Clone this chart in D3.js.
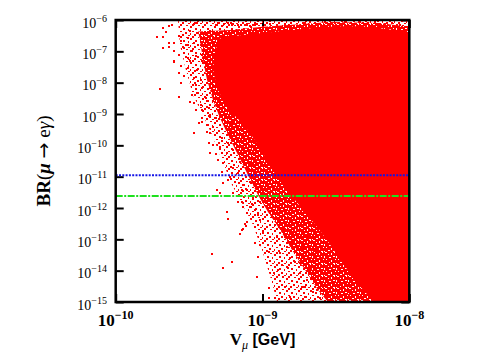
<!DOCTYPE html>
<html>
<head>
<meta charset="UTF-8">
<title>BR(mu -> e gamma) vs V_mu</title>
<script src="https://d3js.org/d3.v7.min.js"></script>
<style>
  body { margin: 0; background: #fff; }
  svg text { font-family: "Liberation Serif", "DejaVu Serif", serif; fill: #000; }
</style>
</head>
<body>
<div id="chart"></div>
<script>
// ---- data ----
const xTicks = [1e-10, 1e-9, 1e-8];
const xTickExp = ["−10", "−9", "−8"];
const yTicks = [1e-6, 1e-7, 1e-8, 1e-9, 1e-10, 1e-11, 1e-12, 1e-13, 1e-14, 1e-15];
const yTickExp = ["−6", "−7", "−8", "−9", "−10", "−11", "−12", "−13", "−14", "−15"];

const boundBlue = 1.1e-11;   // dotted line
const boundGreen = 2.4e-12;  // dash-dot line

// outline of the fully covered part of the scan [V, BR]
const coreEdge = [
  [5.3e-10, 2.87e-7], [7.0e-10, 3.09e-7], [9.6e-10, 3.58e-7], [1.32e-9, 4.15e-7],
  [1.8e-9, 4.8e-7], [2.47e-9, 5.56e-7], [3.37e-9, 5.98e-7], [4.6e-9, 5.98e-7],
  [6.3e-9, 5.16e-7], [8.0e-9, 4.47e-7], [1e-8, 3.85e-7], [1e-8, 1e-15],
  [5.84e-9, 1e-15], [4.6e-9, 3.49e-15], [3.95e-9, 9.1e-15], [3.37e-9, 2.54e-14],
  [2.88e-9, 7.6e-14], [2.47e-9, 2e-13], [2.1e-9, 5.2e-13], [1.8e-9, 1.25e-12],
  [1.54e-9, 3.0e-12], [1.32e-9, 7.8e-12], [1.125e-9, 2.36e-11], [9.9e-10, 7.1e-11],
  [8.5e-10, 2.14e-10], [7.25e-10, 5.6e-10], [6.2e-10, 1.16e-9], [5.4e-10, 2.8e-9],
  [4.9e-10, 8.4e-9], [4.67e-10, 2.5e-8], [4.75e-10, 7.6e-8], [4.97e-10, 1.6e-7]
];

// outline of the densely sampled band around it [V, BR]
const denseEdge = [
  [1e-8, 5.99e-7], [6.31e-9, 8.04e-7], [2.88e-9, 8.65e-7], [1.5e-9, 6.9e-7],
  [9.62e-10, 6.0e-7], [6.0e-10, 4.8e-7], [3.64e-10, 4.3e-7], [3.75e-10, 2.31e-7],
  [3.93e-10, 5.3e-8], [4.19e-10, 1.22e-8], [4.6e-10, 2.8e-9], [5.13e-10, 7.47e-10],
  [5.82e-10, 2.14e-10], [6.81e-10, 4.9e-11], [7.96e-10, 1.13e-11], [9.32e-10, 2.6e-12],
  [1.09e-9, 7.47e-13], [1.32e-9, 1.99e-13], [1.59e-9, 4.57e-14], [1.95e-9, 1.05e-14],
  [2.39e-9, 2.42e-15], [2.79e-9, 1e-15], [1e-8, 1e-15]
];

// outline of the thinly sampled band [V, BR]
const sparseEdge = [
  [1e-8, 9.3e-7], [2.66e-10, 9.3e-7], [2.74e-10, 1.6e-7], [3.01e-10, 2.54e-8],
  [3.36e-10, 4.05e-9], [3.93e-10, 9.31e-10], [4.53e-10, 2.14e-10], [5.3e-10, 3.41e-11],
  [6.2e-10, 5.42e-12], [7.36e-10, 1.25e-12], [8.61e-10, 2.87e-13], [9.93e-10, 4.57e-14],
  [1.12e-9, 7.3e-15], [1.26e-9, 1e-15], [1e-8, 1e-15]
];

// scattered points outside the covered part [V, BR]
const fringeUpper = [
  [1.9e-10, 2.9e-7], [2.0e-10, 6.3e-9], [2.7e-10, 3.5e-9], [2.8e-10, 9.8e-9], [2.1e-10, 2.9e-7],
  [2.3e-10, 6.5e-7], [2.5e-10, 4.6e-8], [2.3e-10, 1.9e-7], [3.4e-10, 7.5e-7], [3.6e-10, 8.0e-7],
  [4.8e-10, 6.9e-7], [5.5e-10, 7.5e-7], [6.2e-10, 6.9e-7], [6.8e-10, 6.9e-7], [7.8e-10, 7.5e-7],
  [9.2e-10, 7.5e-7], [3.4e-10, 2.5e-10], [3.2e-10, 2.4e-9], [3.7e-10, 5.2e-10], [4.2e-10, 2.7e-10],
  [4.4e-10, 5.7e-11], [2.1e-10, 5.6e-7], [2.2e-10, 4.2e-7], [2.4e-10, 6.9e-7], [2.1e-10, 1.3e-7],
  [2.3e-10, 1.4e-7], [2.5e-10, 1.0e-7], [2.5e-10, 4.9e-8], [2.7e-10, 7.7e-8], [2.9e-10, 1.3e-7],
  [3.1e-10, 2.7e-7], [2.8e-10, 3.4e-8], [2.7e-10, 2.0e-8], [2.9e-10, 1.6e-8], [3.1e-10, 2.9e-8],
  [3.2e-10, 4.9e-8], [3.3e-10, 1.0e-7], [3.4e-10, 1.4e-8], [3.5e-10, 8.4e-9], [3.6e-10, 4.7e-9],
  [3.3e-10, 4.1e-9], [3.4e-10, 2.3e-9], [3.8e-10, 1.9e-9], [3.9e-10, 1.3e-9], [4.3e-10, 8.7e-10],
  [3.5e-10, 1.3e-9], [3.6e-10, 2.5e-8], [3.8e-10, 1.2e-8], [3.9e-10, 6.8e-9], [4.1e-10, 3.3e-9],
  [4.3e-10, 1.6e-9], [4.4e-10, 1.4e-8], [4.6e-10, 4.1e-9], [3.9e-10, 4.9e-8], [3.9e-10, 7.7e-8],
  [3.8e-10, 1.6e-7], [4.2e-10, 2.1e-7], [4.1e-10, 3.3e-7], [4.4e-10, 4.5e-7], [4.8e-10, 3.1e-7],
  [3.6e-10, 3.9e-7], [3.2e-10, 4.5e-7], [5.0e-10, 8.0e-7], [5.3e-10, 6.5e-7], [5.8e-10, 8.0e-7],
  [6.3e-10, 7.5e-7], [7.6e-10, 6.9e-7], [8.2e-10, 6.5e-7], [8.9e-10, 6.9e-7], [2.7e-10, 3.1e-7],
  [2.8e-10, 2.1e-7], [2.5e-10, 1.9e-7], [3.1e-10, 1.6e-7], [3.4e-10, 1.9e-7], [3.1e-10, 6.1e-8],
  [3.5e-10, 7.1e-8], [4.3e-10, 4.9e-8], [4.5e-10, 2.9e-8], [4.2e-10, 2.4e-8], [4.6e-10, 8.4e-9],
  [4.4e-10, 6.8e-9], [4.2e-10, 2.6e-9], [4.6e-10, 2.6e-9], [3.9e-10, 7.5e-10], [4.9e-10, 1.9e-9],
  [5.1e-10, 1.1e-9]
];

const fringeMiddle = [
  [3.9e-10, 5.6e-10], [4.2e-10, 4.5e-10], [4.4e-10, 2.5e-10], [4.6e-10, 3.9e-10], [4.8e-10, 7.5e-10],
  [4.4e-10, 9.3e-10], [5.1e-10, 8.0e-10], [4.9e-10, 2.5e-10], [5.3e-10, 1.7e-10], [4.6e-10, 1.0e-10],
  [5.1e-10, 8.9e-11], [5.0e-10, 3.4e-11], [5.3e-10, 1.4e-11], [5.4e-10, 2.7e-11], [5.7e-10, 5.7e-11],
  [5.8e-10, 1.2e-10], [6.0e-10, 2.5e-10], [6.2e-10, 5.2e-10], [6.3e-10, 7.1e-11], [6.3e-10, 1.9e-11],
  [6.0e-10, 9.8e-12], [5.8e-10, 7.8e-12], [6.5e-10, 6.8e-12], [6.8e-10, 1.3e-11], [7.0e-10, 2.9e-11],
  [7.3e-10, 5.7e-11], [7.6e-10, 1.0e-10], [7.4e-10, 5.4e-12], [7.3e-10, 3.8e-12], [7.8e-10, 3.8e-12],
  [8.2e-10, 6.8e-12], [8.0e-10, 1.6e-11], [8.5e-10, 2.7e-11], [8.6e-10, 5.7e-11], [8.9e-10, 9.8e-12],
  [9.2e-10, 4.3e-12], [8.6e-10, 2.1e-12], [9.6e-10, 1.6e-12], [1.0e-9, 3.2e-12], [9.9e-10, 6.8e-12],
  [1.04e-9, 1.6e-11], [5.4e-10, 6.3e-12], [6.3e-10, 3.0e-12], [7.3e-10, 1.6e-12], [8.2e-10, 1.1e-12],
  [5.1e-10, 3.0e-12], [4.9e-10, 3.8e-12], [4.8e-10, 5.3e-11], [4.3e-10, 1.2e-10]
];

const fringeLower = [
  [4.5e-10, 3.4e-14], [5.4e-10, 1.2e-14], [6.2e-10, 1.9e-14], [5.8e-10, 4.5e-13], [5.7e-10, 7.5e-13],
  [7.0e-10, 1.5e-13], [7.4e-10, 2.1e-13], [7.6e-10, 3.1e-13], [7.8e-10, 3.6e-13], [6.8e-10, 1.5e-12],
  [7.4e-10, 1.1e-12], [7.8e-10, 6.9e-13], [8.5e-10, 1.3e-12], [8.9e-10, 8.7e-13], [8.9e-10, 7.6e-14],
  [9.6e-10, 6.6e-14], [9.2e-10, 6.3e-15], [9.3e-10, 2.7e-14], [1.1e-9, 2.8e-15], [1.1e-9, 1.3e-15],
  [1.2e-9, 8.4e-15], [1.1e-9, 3.9e-14], [1.0e-9, 1.6e-13], [1.07e-9, 2.5e-13], [9.6e-10, 4.1e-13],
  [9.3e-10, 6.0e-13], [1.04e-9, 7.5e-13], [1.16e-9, 5.2e-13], [1.22e-9, 2.9e-13], [1.26e-9, 1.2e-13],
  [1.32e-9, 3.7e-14], [1.36e-9, 1.5e-14], [1.28e-9, 1.05e-14], [1.38e-9, 6.3e-15], [1.42e-9, 3.0e-15],
  [1.22e-9, 1.3e-15], [1.54e-9, 1.4e-15], [1.49e-9, 1.2e-14], [1.54e-9, 2.5e-14], [1.47e-9, 5.7e-14],
  [1.42e-9, 1.2e-13], [1.38e-9, 2.0e-13], [1.49e-9, 2.9e-13], [1.61e-9, 1.6e-13], [1.59e-9, 7.6e-14],
  [1.72e-9, 3.7e-14], [1.67e-9, 1.9e-14], [1.8e-9, 8.4e-15], [1.72e-9, 4.4e-15], [1.86e-9, 3.0e-15],
  [1.95e-9, 1.4e-15], [2.0e-9, 5.0e-15], [2.1e-9, 1.2e-14], [2.04e-9, 2.5e-14], [1.89e-9, 5.7e-14],
  [2.0e-9, 1.2e-13], [2.1e-9, 7.6e-14], [2.2e-9, 3.7e-14], [2.3e-9, 6.3e-15], [2.35e-9, 2.4e-15],
  [2.47e-9, 1.3e-15], [2.4e-9, 1.5e-14], [2.54e-9, 8.4e-15], [2.67e-9, 4.0e-15], [2.75e-9, 1.7e-15],
  [2.6e-9, 2.7e-14], [1.8e-9, 1.8e-14], [7.3e-10, 2.0e-13], [7.7e-10, 2.7e-13]
];

const fringeBottom = [
  [3.1e-9, 2.4e-15], [3.2e-9, 1.4e-15], [3.5e-9, 3.0e-15], [3.8e-9, 2.1e-15], [4.1e-9, 1.4e-15],
  [4.4e-9, 2.8e-15], [4.8e-9, 1.9e-15], [5.2e-9, 2.4e-15], [5.6e-9, 2.1e-15], [2.9e-9, 5.0e-15],
  [2.75e-9, 1.05e-14], [3.0e-9, 8.4e-15], [3.4e-9, 6.3e-15], [3.65e-9, 4.4e-15], [3.95e-9, 5.8e-15],
  [2.8e-9, 1.8e-14], [3.0e-9, 2.2e-14], [3.2e-9, 1.3e-14], [3.5e-9, 1.3e-14], [2.35e-9, 4.6e-14],
  [2.47e-9, 9.5e-14], [1.72e-9, 2.5e-13], [1.89e-9, 1.6e-13], [2.1e-9, 3.3e-13], [2.35e-9, 2.3e-13],
  [2.0e-9, 1.8e-14], [1.95e-9, 3.0e-15], [2.2e-9, 2.1e-15], [2.6e-9, 3.0e-15], [2.2e-9, 6.3e-15]
];

const fringeTop = [
  [1.95e-9, 8.0e-7], [2.1e-9, 8.7e-7], [2.4e-9, 7.5e-7], [2.67e-9, 8.7e-7], [2.9e-9, 6.9e-7],
  [3.1e-9, 8.0e-7], [3.65e-9, 8.7e-7], [4.1e-9, 7.5e-7], [4.6e-9, 8.7e-7], [5.2e-9, 8.0e-7],
  [5.8e-9, 8.7e-7], [6.3e-9, 6.5e-7], [6.8e-9, 7.5e-7], [7.6e-9, 8.0e-7], [8.65e-9, 6.9e-7],
  [9.35e-9, 6.0e-7], [8.0e-9, 5.6e-7], [1.42e-9, 6.9e-7], [1.12e-9, 7.5e-7], [1.32e-9, 6.0e-7],
  [1.67e-9, 5.6e-7], [1.0e-9, 5.6e-7]
];

// ---- drawing ----
const W = 503, H = 353;
const plotLeft = 115.7, plotRight = 409.3, plotTop = 20, plotBottom = 302;
const red = "#ff0000";

const svg = d3.select("#chart").append("svg")
  .attr("width", W).attr("height", H);

const x = d3.scaleLog().domain([1e-10, 1e-8]).range([plotLeft, plotRight]);
const y = d3.scaleLog().domain([1e-15, 1e-6]).range([plotBottom, plotTop]);

const defs = svg.append("defs");
defs.append("clipPath").attr("id", "plot")
  .append("rect").attr("x", plotLeft).attr("y", plotTop)
  .attr("width", plotRight - plotLeft).attr("height", plotBottom - plotTop);

// speckle textures for the two density bands
const densePat = defs.append("pattern").attr("id", "dense")
  .attr("patternUnits", "userSpaceOnUse").attr("width", 12).attr("height", 12);
densePat.append("rect").attr("width", 12).attr("height", 12).attr("fill", red);
[[1,0,2,1],[7,1,1,2],[10,0,1,1],[4,2,1,1],[0,4,1,2],[9,4,2,1],[5,5,2,1],[2,7,1,1],
 [7,8,1,2],[11,7,1,1],[4,10,2,1],[0,11,1,1],[9,11,2,1]]
  .forEach(r => densePat.append("rect").attr("x", r[0]).attr("y", r[1])
    .attr("width", r[2]).attr("height", r[3]).attr("fill", "#fff"));

const sparsePat = defs.append("pattern").attr("id", "sparse")
  .attr("patternUnits", "userSpaceOnUse").attr("width", 12).attr("height", 12);
[[0,0,2,2],[6,1,2,1],[10,2,2,2],[3,4,2,2],[8,5,1,2],[0,7,2,1],[5,8,2,2],[10,9,1,2],
 [2,10,2,2],[8,11,2,1]]
  .forEach(r => sparsePat.append("rect").attr("x", r[0]).attr("y", r[1])
    .attr("width", r[2]).attr("height", r[3]).attr("fill", red));

// inward ticks on all four sides (drawn under the data)
const tickLen = 8;
const axes = svg.append("g");
axes.append("g").attr("transform", `translate(${plotLeft},0)`)
  .call(d3.axisLeft(y).tickValues(yTicks).tickSize(-tickLen).tickFormat(""));
axes.append("g").attr("transform", `translate(${plotRight},0)`)
  .call(d3.axisRight(y).tickValues(yTicks).tickSize(-tickLen).tickFormat(""));
axes.append("g").attr("transform", `translate(0,${plotBottom})`)
  .call(d3.axisBottom(x).tickValues(xTicks).tickSize(-tickLen).tickFormat(""));
axes.append("g").attr("transform", `translate(0,${plotTop})`)
  .call(d3.axisTop(x).tickValues(xTicks).tickSize(-tickLen).tickFormat(""));
axes.selectAll(".domain").remove();
axes.selectAll(".tick line").attr("stroke", "#000").attr("stroke-width", 2);

// scan points
const data = svg.append("g").attr("clip-path", "url(#plot)");
const line = d3.line().x(d => x(d[0])).y(d => y(d[1]));
data.append("path").attr("d", line(sparseEdge) + "Z").attr("fill", "url(#sparse)");
data.append("path").attr("d", line(denseEdge) + "Z").attr("fill", "url(#dense)");
data.append("path")
  .attr("d", line(coreEdge) + "Z")
  .attr("fill", red)
  .attr("stroke", red)
  .attr("stroke-width", 1.5)
  .attr("stroke-linejoin", "round");

const fringe = [].concat(fringeUpper, fringeMiddle, fringeLower, fringeBottom, fringeTop);
data.selectAll("rect.pt")
  .data(fringe)
  .enter()
  .append("rect")
  .attr("class", "pt")
  .attr("x", d => x(d[0]) - 1)
  .attr("y", d => y(d[1]) - 1)
  .attr("width", 2)
  .attr("height", 2)
  .attr("fill", red)
  .attr("shape-rendering", "crispEdges");

// experimental limits
data.append("path")
  .attr("d", line([[1e-10, boundBlue], [1e-8, boundBlue]]))
  .attr("stroke", "#1414e6").attr("stroke-width", 2)
  .attr("stroke-dasharray", "2,1.3").attr("fill", "none");
data.append("path")
  .attr("d", line([[1e-10, boundGreen], [1e-8, boundGreen]]))
  .attr("stroke", "#1ee01e").attr("stroke-width", 2)
  .attr("stroke-dasharray", "7,1.5,2,1.5").attr("fill", "none");

// frame
svg.append("rect")
  .attr("x", plotLeft).attr("y", plotTop)
  .attr("width", plotRight - plotLeft).attr("height", plotBottom - plotTop)
  .attr("fill", "none").attr("stroke", "#000").attr("stroke-width", 2.5);

// tick labels
const yLab = svg.append("g").selectAll("text")
  .data(yTicks)
  .enter()
  .append("text")
  .attr("x", 107)
  .attr("y", d => y(d) + 7.5)
  .attr("text-anchor", "end")
  .style("font-size", "14px");
yLab.append("tspan").text("10");
yLab.append("tspan").attr("dy", -6).style("font-size", "10px").text((d, i) => yTickExp[i]);

const xLab = svg.append("g").selectAll("text")
  .data(xTicks)
  .enter()
  .append("text")
  .attr("x", d => x(d))
  .attr("y", 326)
  .attr("text-anchor", "middle")
  .style("font-size", "17px")
  .style("font-weight", "bold");
xLab.append("tspan").text("10");
xLab.append("tspan").attr("dy", -7).style("font-size", "12px").text((d, i) => xTickExp[i]);

// axis titles
const xTitle = svg.append("text")
  .attr("x", (plotLeft + plotRight) / 2)
  .attr("y", 345)
  .attr("text-anchor", "middle");
xTitle.append("tspan").style("font-size", "17px").style("font-weight", "bold").text("V");
xTitle.append("tspan").attr("dy", 4).style("font-size", "12px").style("font-style", "italic").text("μ");
xTitle.append("tspan").attr("dy", -4)
  .style("font-family", "'Liberation Sans', Arial, sans-serif")
  .style("font-size", "16px").style("font-weight", "bold").text(" [GeV]");

const yTitle = svg.append("text")
  .attr("transform", `translate(50,${(plotTop + plotBottom) / 2}) rotate(-90)`)
  .attr("text-anchor", "middle")
  .style("font-size", "19px");
yTitle.append("tspan").style("font-weight", "bold").text("BR");
yTitle.append("tspan").text("(");
yTitle.append("tspan").style("font-style", "italic").style("font-weight", "bold").text("μ");
yTitle.append("tspan").text(" ");
yTitle.append("tspan").style("font-family", "'DejaVu Sans', sans-serif").text("→");
yTitle.append("tspan").text(" e");
yTitle.append("tspan").style("font-style", "italic").text("γ");
yTitle.append("tspan").text(")");
</script>
</body>
</html>
